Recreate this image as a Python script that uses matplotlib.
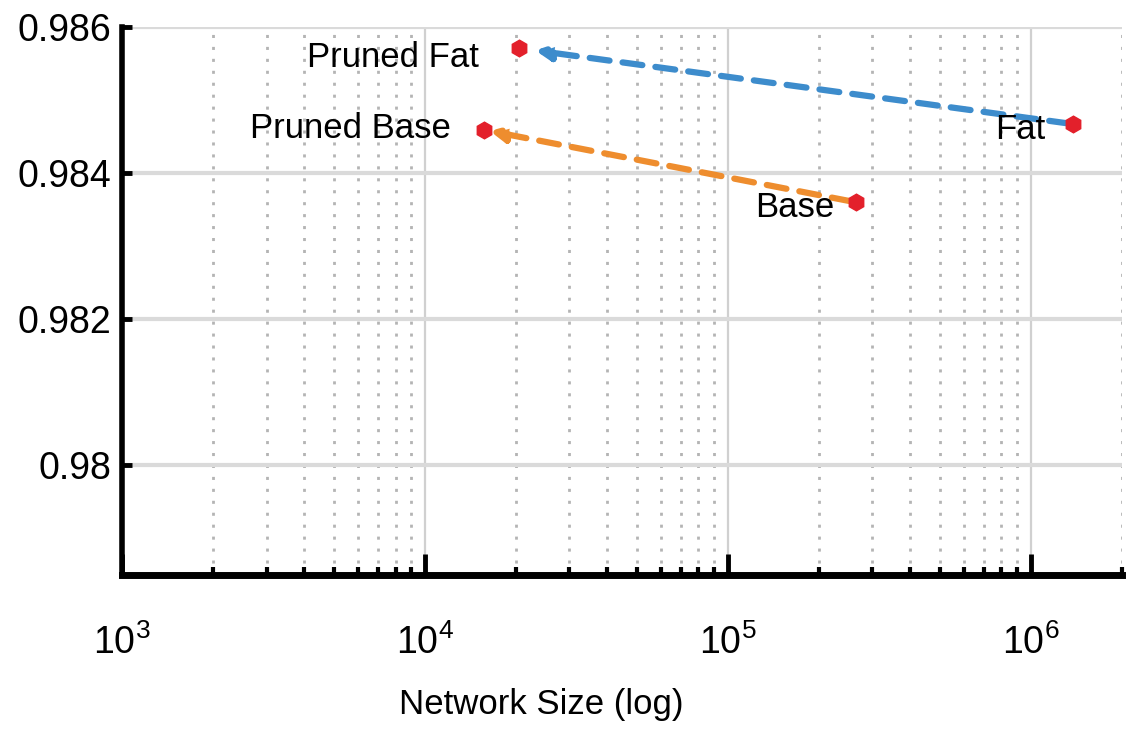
import matplotlib
matplotlib.use('Agg')
import matplotlib.pyplot as plt
import numpy as np
from matplotlib.ticker import LogLocator, NullFormatter

plt.rcParams['font.family'] = ['Liberation Sans', 'DejaVu Sans']
plt.rcParams['mathtext.fontset'] = 'custom'
plt.rcParams['mathtext.rm'] = 'Liberation Sans'
plt.rcParams['mathtext.it'] = 'Liberation Sans'

# data
names = ["Fat", "Base"]
pruned_names = ["Pruned Fat", "Pruned Base"]
size = [1.38e6, 2.64e5]
acc = [0.98467, 0.98360]
pruned_size = [2.04e4, 1.57e4]
pruned_acc = [0.98571, 0.98459]
colors = ['#3d8ccc', '#ee8d2e']

fig = plt.figure(figsize=(11.35, 7.36), dpi=100)
ax = fig.add_axes([0.1075, 0.2194, 0.881, 0.7439])

ax.set_xscale('log')
ax.set_xlim(1e3, 2e6)
ax.set_ylim(0.9785, 0.986)

# grid
ax.set_yticks([0.98, 0.982, 0.984, 0.986])
ax.set_yticklabels(['0.98', '0.982', '0.984', '0.986'])
ax.xaxis.set_major_locator(LogLocator(base=10, numticks=10))
ax.xaxis.set_minor_locator(LogLocator(base=10, subs=np.arange(2, 10), numticks=20))
ax.xaxis.set_minor_formatter(NullFormatter())
ax.grid(axis='y', which='major', color='#dadada', lw=3, ls='-')
ax.grid(axis='x', which='major', color='#d0d0d0', lw=1.6, ls='-')
ax.grid(axis='x', which='minor', color='#b4b4b4', lw=2, ls=(0, (1.1, 3.2)))
ax.set_axisbelow(True)

for s in ['top', 'right']:
    ax.spines[s].set_visible(False)
ax.spines['left'].set_linewidth(4)
ax.spines['bottom'].set_linewidth(5)

ax.tick_params(axis='both', which='major', direction='in', width=3.5, labelsize=27)
ax.tick_params(axis='y', which='major', length=7, pad=8)
ax.tick_params(axis='x', which='major', length=15, pad=36)
ax.tick_params(axis='x', which='minor', direction='in', length=6, width=3)

shrink_head = [12, 4]
for i in range(len(names)):
    ax.annotate('', xy=(pruned_size[i], pruned_acc[i]), xytext=(size[i], acc[i]),
                arrowprops=dict(arrowstyle='-|>', color=colors[i], lw=4.5, ls=(0, (3.2, 2.1)),
                                mutation_scale=22, shrinkA=3, shrinkB=shrink_head[i]))
    ax.plot([size[i], pruned_size[i]], [acc[i], pruned_acc[i]], 'h', color='#e3202b',
            ms=12, ls='none', zorder=5)

lab_fs = 25
ax.annotate(pruned_names[0], (pruned_size[0], pruned_acc[0]), xytext=(-29, -7),
            textcoords='offset points', fontsize=lab_fs, ha='right', va='center')
ax.annotate(pruned_names[1], (pruned_size[1], pruned_acc[1]), xytext=(-24, 1),
            textcoords='offset points', fontsize=lab_fs, ha='right', va='center')
ax.annotate(names[0], (size[0], acc[0]), xytext=(-20, -4),
            textcoords='offset points', fontsize=lab_fs, ha='right', va='center')
ax.annotate(names[1], (size[1], acc[1]), xytext=(-15, -4),
            textcoords='offset points', fontsize=lab_fs, ha='right', va='center')

ax.set_xlabel('Network Size (log)', fontsize=25)
ax.xaxis.set_label_coords(0.419, -0.208)

fig.savefig('out.png', dpi=100)
